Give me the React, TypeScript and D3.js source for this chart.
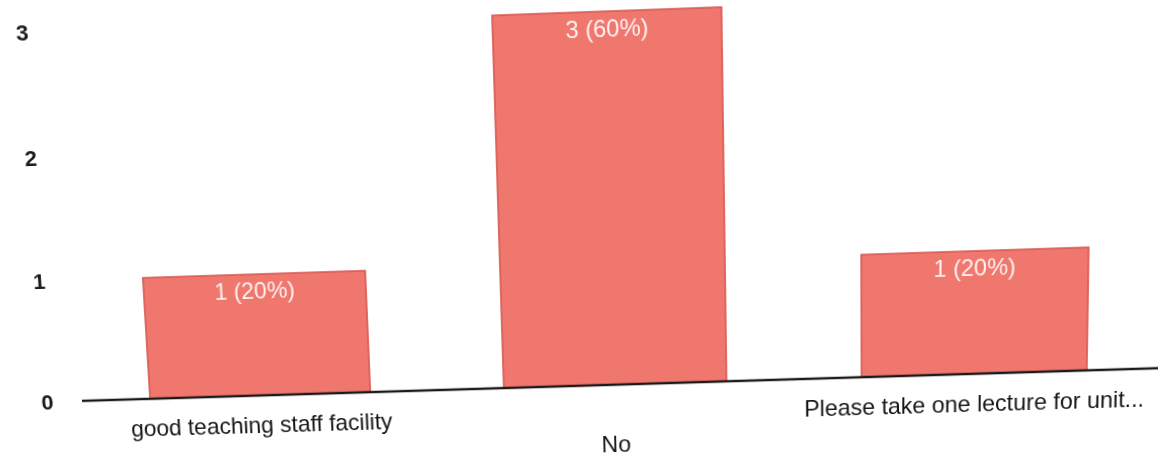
import React, { useMemo } from "react";
import * as d3 from "d3";

const categories = ["good teaching staff facility", "No", "Please take one lecture for unit..."];
const counts = [1, 3, 1];
const percents = [20, 60, 20];
const yTicks = [0, 1, 2, 3];
const labelRows = [0, 1, 0];

// Photo calibration: where each bar's corners (TL, TR, BL, BR) land in the skewed photo
const photoCorners: number[][][] = [
  [[143, 276], [363, 272], [152, 397], [368, 393]],
  [[493, 14], [721, 8], [505, 389], [724, 387]],
  [[863, 256], [1088, 248], [865, 375], [1086, 366]],
];

function solve(A: number[][], b: number[]): number[] {
  const n = b.length;
  const M = A.map((r, i) => [...r, b[i]]);
  for (let c = 0; c < n; c++) {
    let p = c;
    for (let r = c + 1; r < n; r++) if (Math.abs(M[r][c]) > Math.abs(M[p][c])) p = r;
    [M[c], M[p]] = [M[p], M[c]];
    for (let r = 0; r < n; r++) {
      if (r === c) continue;
      const f = M[r][c] / M[c][c];
      for (let k = c; k <= n; k++) M[r][k] -= f * M[c][k];
    }
  }
  return M.map((r, i) => r[n] / r[i]);
}

function fitHomography(src: number[][], dst: number[][]): number[] {
  const s = 1000;
  const rows: number[][] = [];
  const rhs: number[] = [];
  src.forEach((p, i) => {
    const x = p[0] / s, y = p[1] / s, X = dst[i][0] / s, Y = dst[i][1] / s;
    rows.push([x, y, 1, 0, 0, 0, -x * X, -y * X]); rhs.push(X);
    rows.push([0, 0, 0, x, y, 1, -x * Y, -y * Y]); rhs.push(Y);
  });
  const AtA = Array.from({ length: 8 }, () => new Array(8).fill(0));
  const Atb = new Array(8).fill(0);
  rows.forEach((r, i) => {
    for (let a = 0; a < 8; a++) {
      Atb[a] += r[a] * rhs[i];
      for (let c = 0; c < 8; c++) AtA[a][c] += r[a] * r[c];
    }
  });
  const h = solve(AtA, Atb);
  return [h[0], h[1], h[2] * s, h[3], h[4], h[5] * s, h[6] / s, h[7] / s];
}

const W = 1200;
const H = 480;

export default function App() {
  const x = d3.scaleBand<string>().domain(categories).range([82, 1150]).paddingInner(0.376).paddingOuter(0.188);
  const y = d3.scaleLinear().domain([0, 3]).range([395, 20]);
  const bw = x.bandwidth();

  const matrix = useMemo(() => {
    const src: number[][] = [];
    const dst: number[][] = [];
    categories.forEach((c, i) => {
      const x0 = x(c)!;
      const yt = y(counts[i]);
      const yb = y(0);
      src.push([x0, yt], [x0 + bw, yt], [x0, yb], [x0 + bw, yb]);
      dst.push(...photoCorners[i]);
    });
    const h = fitHomography(src, dst);
    return `matrix3d(${h[0]},${h[3]},0,${h[6]},${h[1]},${h[4]},0,${h[7]},0,0,1,0,${h[2]},${h[5]},0,1)`;
  }, []);

  const font = "'Liberation Sans', Arial, sans-serif";

  return (
    <div style={{ position: "fixed", left: 0, top: 0, width: 1158, height: 462, overflow: "hidden", background: "#fff" }}>
      <svg
        width={W}
        height={H}
        style={{ display: "block", transformOrigin: "0 0", transform: matrix }}
        fontFamily={font}
      >
        {yTicks.map((t) => (
          <text key={t} x={51} y={y(t)} dy="0.35em" textAnchor="end" fontSize={22} fontWeight="bold" fill="#1a1a1a">
            {t}
          </text>
        ))}
        {categories.map((c, i) => (
          <rect
            key={c}
            x={x(c)!}
            y={y(counts[i])}
            width={bw}
            height={y(0) - y(counts[i])}
            fill="#ef776d"
            stroke="#d8564e"
            strokeWidth={1.5}
          />
        ))}
        {categories.map((c, i) => (
          <text
            key={c + "v"}
            x={x(c)! + bw / 2}
            y={y(counts[i]) + 25}
            textAnchor="middle"
            fontSize={23}
            fill="#fff"
            fillOpacity={0.9}
          >
            {`${counts[i]} (${percents[i]}%)`}
          </text>
        ))}
        <line x1={80} x2={1200} y1={y(0)} y2={y(0)} stroke="#1a1a1a" strokeWidth={2.5} />
        {categories.map((c, i) => (
          <text
            key={c + "l"}
            x={x(c)! + bw / 2}
            y={y(0) + 39 + labelRows[i] * 31}
            textAnchor="middle"
            fontSize={23}
            fill="#151515"
          >
            {c}
          </text>
        ))}
      </svg>
    </div>
  );
}
